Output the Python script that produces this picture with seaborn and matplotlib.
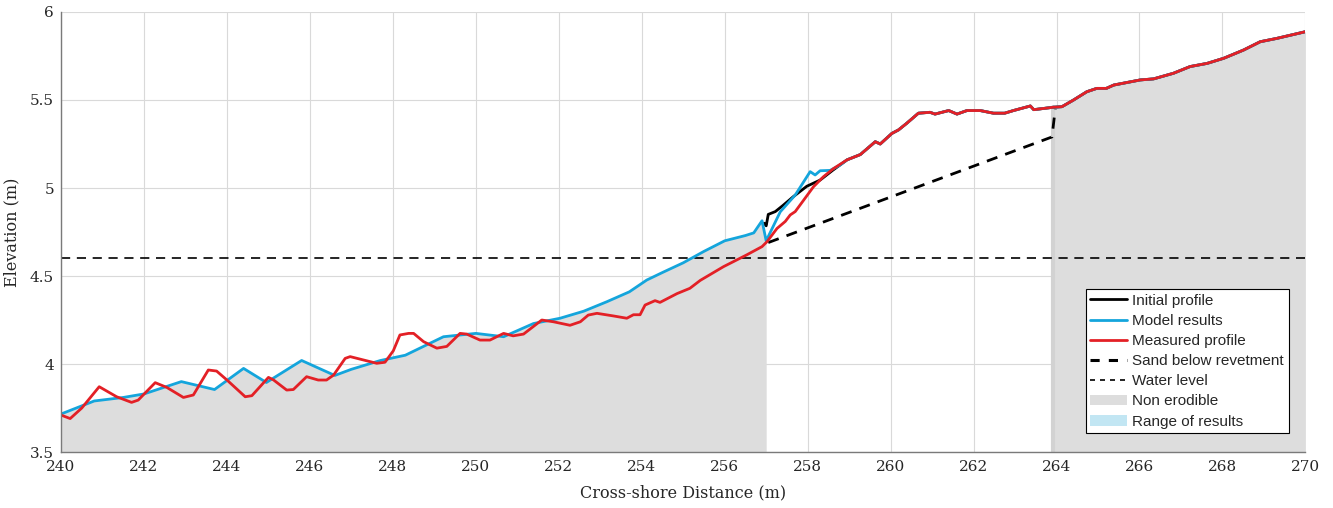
import numpy as np
import pandas as pd
import matplotlib
matplotlib.use("Agg")
import matplotlib.pyplot as plt
from matplotlib.lines import Line2D
from matplotlib.patches import Patch
import seaborn as sns

# ---------------- data ----------------
tail_x = [258.95, 259.27, 259.63, 259.75, 260.03, 260.19, 260.39, 260.67, 260.95, 261.07,
          261.4, 261.6, 261.84, 262.16, 262.48, 262.75, 262.96, 263.37, 263.45, 263.93,
          264.13, 264.41, 264.73, 264.97, 265.2, 265.38, 266.02, 266.34, 266.82, 267.22,
          267.63, 268.03, 268.51, 268.91, 269.31, 270.0]
tail_y = [5.16, 5.19, 5.263, 5.25, 5.31, 5.33, 5.368, 5.425, 5.43, 5.42,
          5.44, 5.42, 5.44, 5.44, 5.425, 5.425, 5.44, 5.466, 5.445, 5.459,
          5.462, 5.50, 5.547, 5.566, 5.566, 5.585, 5.614, 5.62, 5.652, 5.69,
          5.708, 5.737, 5.784, 5.831, 5.85, 5.888]

model_x = [240.0, 240.8, 241.5, 242.0, 242.9, 243.7, 244.4, 244.95, 245.8, 246.6,
           247.0, 247.7, 248.3, 249.22, 250.0, 250.67, 251.39, 252.03, 252.6, 253.16,
           253.7, 254.12, 254.5, 255.0, 255.5, 256.0, 256.5, 256.7, 256.9, 257.0,
           257.34, 257.7, 258.06, 258.18, 258.3, 258.54, 258.78] + tail_x
model_y = [3.716, 3.79, 3.81, 3.83, 3.90, 3.855, 3.975, 3.895, 4.02, 3.935,
           3.97, 4.02, 4.05, 4.155, 4.174, 4.155, 4.23, 4.26, 4.30, 4.354,
           4.41, 4.477, 4.52, 4.575, 4.64, 4.70, 4.73, 4.745, 4.814, 4.70,
           4.865, 4.96, 5.093, 5.074, 5.098, 5.10, 5.13] + tail_y

initial_x = [256.95, 257.0, 257.05, 257.22, 257.4, 257.65, 257.98, 258.3, 258.6] + tail_x
initial_y = [4.80, 4.785, 4.85, 4.866, 4.90, 4.95, 5.01, 5.045, 5.10] + tail_y

measured_x = [240.0, 240.22, 240.5, 240.92, 241.34, 241.70, 241.86, 242.27, 242.55, 242.95,
              243.19, 243.55, 243.75, 244.0, 244.44, 244.6, 245.0, 245.12, 245.44, 245.6,
              245.92, 246.2, 246.4, 246.57, 246.85, 246.97, 247.29, 247.61, 247.81, 248.01,
              248.17, 248.38, 248.5, 248.74, 249.06, 249.3, 249.62, 249.78, 250.1, 250.34,
              250.67, 250.9, 251.15, 251.59, 251.87, 252.27, 252.52, 252.71, 252.92, 253.32,
              253.64, 253.8, 253.96, 254.08, 254.32, 254.44, 254.85, 255.16, 255.41, 255.97,
              256.53, 256.9, 257.02, 257.26, 257.46, 257.58, 257.7, 257.9, 258.14, 258.38,
              258.62] + tail_x
measured_y = [3.71, 3.69, 3.75, 3.871, 3.814, 3.782, 3.795, 3.894, 3.867, 3.81,
              3.824, 3.966, 3.96, 3.909, 3.814, 3.82, 3.924, 3.91, 3.852, 3.855,
              3.928, 3.909, 3.909, 3.937, 4.032, 4.042, 4.023, 4.004, 4.01, 4.075,
              4.165, 4.174, 4.174, 4.127, 4.09, 4.10, 4.174, 4.17, 4.136, 4.136,
              4.174, 4.16, 4.17, 4.25, 4.24, 4.22, 4.24, 4.278, 4.288, 4.273,
              4.26, 4.28, 4.28, 4.335, 4.36, 4.35, 4.40, 4.43, 4.475, 4.553,
              4.62, 4.667, 4.695, 4.77, 4.81, 4.847, 4.866, 4.93, 5.007, 5.064,
              5.11] + tail_y

sand_x = [257.05, 263.89, 263.97]
sand_y = [4.69, 5.29, 5.45]

water_level = 4.6
noneroded_left_end = 257.0
noneroded_right_start = 263.88

x_ticks = list(range(240, 271, 2))
y_ticks = [3.5, 4.0, 4.5, 5.0, 5.5, 6.0]
y_tick_labels = ["3.5", "4", "4.5", "5", "5.5", "6"]

# ---------------- style ----------------
sns.set_style("white")
serif = ["DejaVu Serif"]
plt.rcParams["font.family"] = serif

C_BLUE = "#14a5dc"
C_RED = "#e32026"
C_GREY = "#dddddd"
C_RANGE = "#c2e6f3"
LW = 2.0

fig = plt.figure(figsize=(13.33, 5.08), dpi=100)
ax = fig.add_axes([0.0458, 0.1102, 0.9335, 0.8662])

mx = np.array(model_x)
my = np.array(model_y)

# non-erodible areas (grey fills under the profile)
left = mx <= noneroded_left_end
ax.fill_between(mx[left], 3.5, my[left], color=C_GREY, lw=0, zorder=1)
right = mx >= noneroded_right_start
rx = np.concatenate([[noneroded_right_start], mx[right]])
ry = np.concatenate([[np.interp(noneroded_right_start, mx, my)], my[right]])
ax.fill_between(rx, 3.5, ry, color=C_GREY, lw=0, zorder=1)
ax.axvline(noneroded_right_start + 0.04, ymax=(ry[0] - 3.5) / 2.5, color="#d2d2d2",
           lw=3, zorder=1)

# water level
ax.axhline(water_level, color="black", lw=1.2, ls=(0, (5.5, 4)), zorder=3)

# sand below revetment
sns.lineplot(x=sand_x, y=sand_y, ax=ax, color="black", lw=2.0, sort=False,
             estimator=None, zorder=3)
ax.lines[-1].set_linestyle((0, (4, 3)))

# profiles
sns.lineplot(x=initial_x, y=initial_y, ax=ax, color="black", lw=LW, sort=False,
             estimator=None, zorder=4)
sns.lineplot(x=model_x, y=model_y, ax=ax, color=C_BLUE, lw=LW, sort=False,
             estimator=None, zorder=5)
sns.lineplot(x=measured_x, y=measured_y, ax=ax, color=C_RED, lw=LW, sort=False,
             estimator=None, zorder=6)

ax.set_xlim(240, 270)
ax.set_ylim(3.5, 6)
ax.set_xticks(x_ticks)
ax.set_xticklabels([str(t) for t in x_ticks])
ax.set_yticks(y_ticks)
ax.set_yticklabels(y_tick_labels)

ax.grid(True, color="#d9d9d9", lw=0.8, zorder=0)
ax.set_axisbelow(True)
for s in ["top", "right"]:
    ax.spines[s].set_visible(False)
for s in ["left", "bottom"]:
    ax.spines[s].set_color("#7a7a7a")
    ax.spines[s].set_linewidth(1.0)
    ax.spines[s].set_zorder(7)
ax.tick_params(axis="both", direction="in", length=4, width=0.8, color="#555555",
               labelsize=11, labelcolor="#262626", pad=5)
ax.tick_params(axis="x", pad=6)

ax.set_xlabel("Cross-shore Distance (m)", fontsize=11.5, color="#262626", labelpad=7)
ax.set_ylabel("Elevation (m)", fontsize=11.5, color="#262626", labelpad=7)

handles = [
    Line2D([], [], color="black", lw=LW),
    Line2D([], [], color=C_BLUE, lw=LW),
    Line2D([], [], color=C_RED, lw=LW),
    Line2D([], [], color="black", lw=2.2, ls=(0, (3, 3))),
    Line2D([], [], color="black", lw=1.2, ls=(0, (3, 3))),
    Patch(facecolor=C_GREY, edgecolor="none"),
    Patch(facecolor=C_RANGE, edgecolor="none"),
]
labels = ["Initial profile", "Model results", "Measured profile", "Sand below revetment",
          "Water level", "Non erodible", "Range of results"]
leg = ax.legend(handles, labels, loc="lower right", bbox_to_anchor=(0.9865, 0.043),
                borderaxespad=0, frameon=True, fancybox=False, framealpha=1,
                edgecolor="black", handlelength=2.4, handletextpad=0.35,
                labelspacing=0.4, borderpad=0.3,
                prop={"family": ["Liberation Sans"], "size": 11})
leg.get_frame().set_linewidth(0.8)
leg.set_zorder(10)

fig.savefig("out.png", dpi=100)
